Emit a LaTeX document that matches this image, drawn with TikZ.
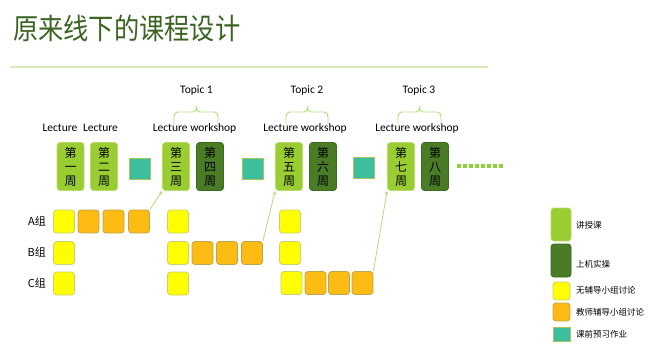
\documentclass[tikz,border=0pt]{standalone}
\usepackage{fontspec}
\setmainfont{Carlito}
\newfontfamily\cjk{Noto Sans CJK SC}
\newfontfamily\cjktitle[FakeStretch=0.87]{Noto Sans CJK SC}
\usetikzlibrary{shapes.misc,arrows.meta}
\definecolor{titlegreen}{HTML}{3B6321}
\definecolor{rulegreen}{HTML}{D6EAB4}
\definecolor{lgreen}{HTML}{9ACD32}
\definecolor{lgreenb}{HTML}{B8DC6A}
\definecolor{dgreen}{HTML}{4A7C26}
\definecolor{dgreenb}{HTML}{3C6A1E}
\definecolor{ylw}{HTML}{FFFF00}
\definecolor{ylwb}{HTML}{C9D06C}
\definecolor{org}{HTML}{FDBC14}
\definecolor{orgb}{HTML}{BFA548}
\definecolor{tealc}{HTML}{3DBF9E}
\definecolor{tealb}{HTML}{A9C45A}
\definecolor{arrowc}{HTML}{B2DC7C}
\definecolor{dotc}{HTML}{8ED23A}
\tikzset{
  wk/.style={rounded corners=3pt, minimum width=27pt, minimum height=48pt, line width=0.8pt, inner sep=0pt, align=center, font=\cjk\fontsize{12}{14}\selectfont, draw},
  lec/.style={wk, fill=lgreen, draw=lgreenb},
  lab/.style={wk, fill=dgreen, draw=dgreenb},
  grp/.style={rounded corners=3pt, minimum width=21pt, minimum height=23pt, inner sep=0pt, line width=0.8pt},
  yb/.style={grp, fill=ylw, draw=ylwb},
  ob/.style={grp, fill=org, draw=orgb},
  note/.style={chamfered rectangle, chamfered rectangle corners={south east}, chamfered rectangle xsep=3pt, chamfered rectangle ysep=3pt, minimum width=21pt, minimum height=21pt, inner sep=0pt, fill=tealc, draw=tealb, line width=0.8pt},
  lbl/.style={font=\fontsize{11.5}{13}\selectfont, inner sep=0pt},
  rowl/.style={font=\cjk\fontsize{11}{12}\selectfont, inner sep=0pt, anchor=east},
  legt/.style={font=\cjk\fontsize{8.5}{10}\selectfont, inner sep=0pt, anchor=west},
  brc/.style={draw=arrowc, line width=0.9pt},
  conn/.style={draw=arrowc, line width=0.8pt, -{Stealth[length=4pt,width=3.5pt]}}
}
\begin{document}
\begin{tikzpicture}[x=1pt,y=-1pt]
\useasboundingbox (0,0) rectangle (650,351);
% title
\node[anchor=west, inner sep=0pt, text=titlegreen, font=\cjktitle\fontsize{29}{32}\selectfont] (title) at (13,28) {原来线下的课程设计};
\draw[rulegreen, line width=1.5pt] (10,67) -- (488,67);

% week boxes
\node[lec] (w1) at (70.5,166.5) {第\\一\\周};
\node[lec] (w2) at (104,166.5) {第\\二\\周};
\node[lec] (w3) at (176,166.5) {第\\三\\周};
\node[lab] (w4) at (210,166.5) {第\\四\\周};
\node[lec] (w5) at (289,166.5) {第\\五\\周};
\node[lab] (w6) at (323,166.5) {第\\六\\周};
\node[lec] (w7) at (401,166.5) {第\\七\\周};
\node[lab] (w8) at (435,166.5) {第\\八\\周};

% notes
\node[note] (t1) at (139.5,168.5) {};
\node[note] (t2) at (252.5,168.5) {};
\node[note] (t3) at (364,168) {};

% dots
\foreach \i in {0,...,7} \fill[dotc] (457+\i*6,164.3) rectangle ++(3.6,3.6);

% labels
\node[lbl] (l1) at (60,128) {Lecture};
\node[lbl] (l2) at (100.5,128) {Lecture};
\node[lbl] (l3) at (194.5,128) {Lecture workshop};
\node[lbl] (l4) at (305,128) {Lecture workshop};
\node[lbl] (l5) at (417,128) {Lecture workshop};
\node[lbl] (p1) at (196.5,90) {Topic 1};
\node[lbl] (p2) at (307,90) {Topic 2};
\node[lbl] (p3) at (419,90) {Topic 3};

% braces
\draw[brc] (174,125) -- (174,117) .. controls (174,114) and (175,112) .. (178,112) -- (193,112) .. controls (195.5,112) and (196.5,110) .. (196.5,107.5) .. controls (196.5,110) and (197.5,112) .. (200,112) -- (214,112) .. controls (217,112) and (218,114) .. (218,117) -- (218,125);
\draw[brc] (286,125) -- (286,117) .. controls (286,114) and (287,112) .. (290,112) -- (304,112) .. controls (306.5,112) and (307.5,110) .. (307.5,107.5) .. controls (307.5,110) and (308.5,112) .. (311,112) -- (324,112) .. controls (327,112) and (328,114) .. (328,117) -- (328,125);
\draw[brc] (398,125) -- (398,117) .. controls (398,114) and (399,112) .. (402,112) -- (416,112) .. controls (418.5,112) and (419.5,110) .. (419.5,107.5) .. controls (419.5,110) and (420.5,112) .. (423,112) -- (437,112) .. controls (440,112) and (441,114) .. (441,117) -- (441,125);

% row labels
\node[rowl] (ra) at (46,221) {A组};
\node[rowl] (rb) at (46,252) {B组};
\node[rowl] (rc) at (46,283) {C组};

% row A
\node[yb] (a1) at (64,221.5) {};
\node[ob] (a2) at (88.5,221.5) {};
\node[ob] (a3) at (113.5,221.5) {};
\node[ob] (a4) at (139,221.5) {};
\node[yb] (a5) at (178,221.5) {};
\node[yb] (a6) at (290,221.5) {};
% row B
\node[yb] (b1) at (64,253) {};
\node[yb] (b2) at (178,253) {};
\node[ob] (b3) at (202.5,253) {};
\node[ob] (b4) at (227,253) {};
\node[ob] (b5) at (252,253) {};
\node[yb] (b6) at (290,253) {};
% row C
\node[yb] (c1) at (64,283.5) {};
\node[yb] (c2) at (178,283.5) {};
\node[yb] (c3) at (291.5,283) {};
\node[ob] (c4) at (315.5,283) {};
\node[ob] (c5) at (339,283) {};
\node[ob] (c6) at (362.5,283) {};

% connectors
\draw[conn] (a4.north east) -- (w3.south west);
\draw[conn] (b5.north east) -- (w5.south west);
\draw[conn] (c6.north east) -- (w7.south west);

% legend
\node[lec, minimum width=20pt, minimum height=33pt] (k1) at (561,224.5) {};
\node[lab, minimum width=20pt, minimum height=33pt] (k2) at (561,260.5) {};
\node[yb, minimum width=17pt, minimum height=18pt] (k3) at (561.5,291) {};
\node[ob, minimum width=17pt, minimum height=18pt] (k4) at (561.5,312) {};
\node[note, minimum width=17pt, minimum height=14pt, chamfered rectangle xsep=2pt, chamfered rectangle ysep=2pt] (k5) at (561.5,334) {};
\node[legt] (kt1) at (576,225) {讲授课};
\node[legt] (kt2) at (576,264) {上机实操};
\node[legt] (kt3) at (576,290) {无辅导小组讨论};
\node[legt] (kt4) at (576,312) {教师辅导小组讨论};
\node[legt] (kt5) at (576,334) {课前预习作业};
\end{tikzpicture}
\end{document}
